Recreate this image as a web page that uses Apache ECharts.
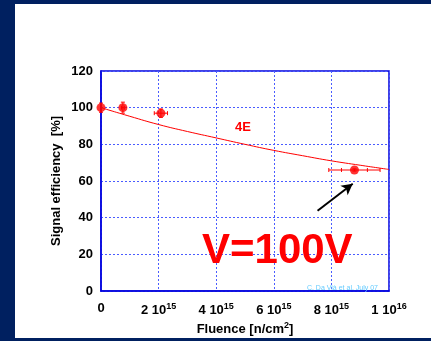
<!DOCTYPE html>
<html>
<head>
<meta charset="utf-8">
<script src="https://cdn.jsdelivr.net/npm/echarts@6/dist/echarts.min.js"></script>
<style>
  html, body { margin: 0; padding: 0; background: #002060; }
  #chart { width: 431px; height: 341px; }
</style>
</head>
<body>
<div id="chart"></div>
<script>
// measured points
const fluence = [0, 0.76e15, 2.08e15, 8.8e15];
const efficiency = [100, 100, 97, 66];
const effErr = [2.5, 3, 2.3, 0.6];
const fluErr = [0, 0.05e15, 0.23e15, 0.89e15];
const fluErrInner = [0, 0, 0, 0.45e15];

// fit curve
const fitFluence = [0, 1e15, 2e15, 3e15, 4e15, 5e15, 6e15, 7e15, 8e15, 9e15, 1e16];
const fitEff = [100, 95.3, 90.8, 87, 83.5, 80, 76.7, 73.8, 71, 68.6, 66.3];

// arrow annotation (data coords)
const arrowFrom = [7.52e15, 43.8];
const arrowTo = [8.74e15, 58.5];

const xTicks = {0: '0', 2e15: '2 10{sup|15}', 4e15: '4 10{sup|15}', 6e15: '6 10{sup|15}', 8e15: '8 10{sup|15}', 1e16: '1 10{sup|16}'};

const font = 'Liberation Sans, Arial, sans-serif';
const frameColor = '#0000dd';
const gridColor = '#4a5cff';

const myChart = echarts.init(document.getElementById('chart'));

const option = {
  backgroundColor: '#002060',
  animation: false,
  textStyle: { fontFamily: font },
  graphic: [
    { type: 'rect', z: -10, shape: { x: 15, y: 4, width: 416, height: 334 }, style: { fill: '#ffffff' } },
    { type: 'text', z: 100, x: 243, y: 127, style: { text: '4E', fill: '#ff0000', font: 'bold 13px ' + font, align: 'center', verticalAlign: 'middle' } },
    { type: 'text', z: 100, x: 202, y: 251, style: { text: 'V=100V', fill: '#ff0000', font: 'bold 42px ' + font, align: 'left', verticalAlign: 'middle' } },
    { type: 'text', z: 100, x: 378, y: 288, style: { text: 'C. Da Vià et al. July 07', fill: '#66ccff', font: '7px ' + font, align: 'right', verticalAlign: 'middle' } }
  ],
  grid: {
    left: 101, top: 71, right: 42, bottom: 46,
    show: true, borderColor: frameColor, borderWidth: 1.5, backgroundColor: 'transparent'
  },
  xAxis: {
    type: 'value', min: 0, max: 1e16, interval: 2e15,
    name: 'Fluence [n/cm{sup|2}]',
    nameLocation: 'middle', nameGap: 30, nameMoveOverlap: false,
    nameTextStyle: {
      color: '#000', fontSize: 13, fontWeight: 'bold',
      rich: { sup: { fontSize: 9, fontWeight: 'bold', color: '#000', padding: [0, 0, 8, 0] } }
    },
    axisLine: { lineStyle: { color: frameColor, width: 1.5 } },
    axisTick: { show: false },
    splitLine: { lineStyle: { color: gridColor, type: [2, 2], width: 1 } },
    axisLabel: {
      color: '#000', fontSize: 13, fontWeight: 'bold', margin: 11,
      formatter: (v) => xTicks[v] !== undefined ? xTicks[v] : '',
      rich: { sup: { fontSize: 9, fontWeight: 'bold', color: '#000', padding: [0, 0, 8, 0] } }
    }
  },
  yAxis: {
    type: 'value', min: 0, max: 120, interval: 20,
    name: 'Signal efficiency  [%]',
    nameLocation: 'middle', nameGap: 38, nameRotate: 90, nameMoveOverlap: false,
    nameTextStyle: { color: '#000', fontSize: 13, fontWeight: 'bold' },
    axisLine: { lineStyle: { color: frameColor, width: 1.5 } },
    axisTick: { show: false },
    splitLine: { lineStyle: { color: gridColor, type: [2, 2], width: 1 } },
    axisLabel: { color: '#000', fontSize: 13, fontWeight: 'bold', margin: 8 }
  },
  series: [
    {
      name: 'fit',
      type: 'line',
      smooth: true,
      symbol: 'none',
      data: fitFluence.map((f, i) => [f, fitEff[i]]),
      lineStyle: { color: '#ff0000', width: 1 },
      markLine: {
        silent: true,
        symbol: ['none', 'arrow'],
        symbolSize: [9, 11],
        label: { show: false },
        lineStyle: { color: '#000', width: 2, type: 'solid' },
        data: [[{ coord: arrowFrom }, { coord: arrowTo }]]
      }
    },
    {
      name: 'errors',
      type: 'custom',
      data: fluence.map((f, i) => [f, efficiency[i], fluErr[i], effErr[i], fluErrInner[i]]),
      renderItem: (params, api) => {
        const x = api.value(0), y = api.value(1), ex = api.value(2), ey = api.value(3), exi = api.value(4);
        const style = { stroke: '#ff0000', lineWidth: 1 };
        const kids = [];
        const seg = (a, b) => kids.push({ type: 'line', shape: { x1: a[0], y1: a[1], x2: b[0], y2: b[1] }, style: style });
        if (ey > 0) {
          const lo = api.coord([x, y - ey]), hi = api.coord([x, y + ey]);
          seg(lo, hi);
          seg([lo[0] - 2, lo[1]], [lo[0] + 2, lo[1]]);
          seg([hi[0] - 2, hi[1]], [hi[0] + 2, hi[1]]);
        }
        if (ex > 0) {
          const l = api.coord([x - ex, y]), r = api.coord([x + ex, y]);
          seg(l, r);
          seg([l[0], l[1] - 2], [l[0], l[1] + 2]);
          seg([r[0], r[1] - 2], [r[0], r[1] + 2]);
        }
        if (exi > 0) {
          const l = api.coord([x - exi, y]), r = api.coord([x + exi, y]);
          seg([l[0], l[1] - 2], [l[0], l[1] + 2]);
          seg([r[0], r[1] - 2], [r[0], r[1] + 2]);
        }
        return { type: 'group', children: kids };
      },
      z: 3
    },
    {
      name: 'data',
      type: 'scatter',
      symbol: 'circle',
      symbolSize: 9,
      data: fluence.map((f, i) => [f, efficiency[i]]),
      itemStyle: { color: '#ff0000' },
      z: 4
    }
  ]
};

myChart.setOption(option);
</script>
</body>
</html>
